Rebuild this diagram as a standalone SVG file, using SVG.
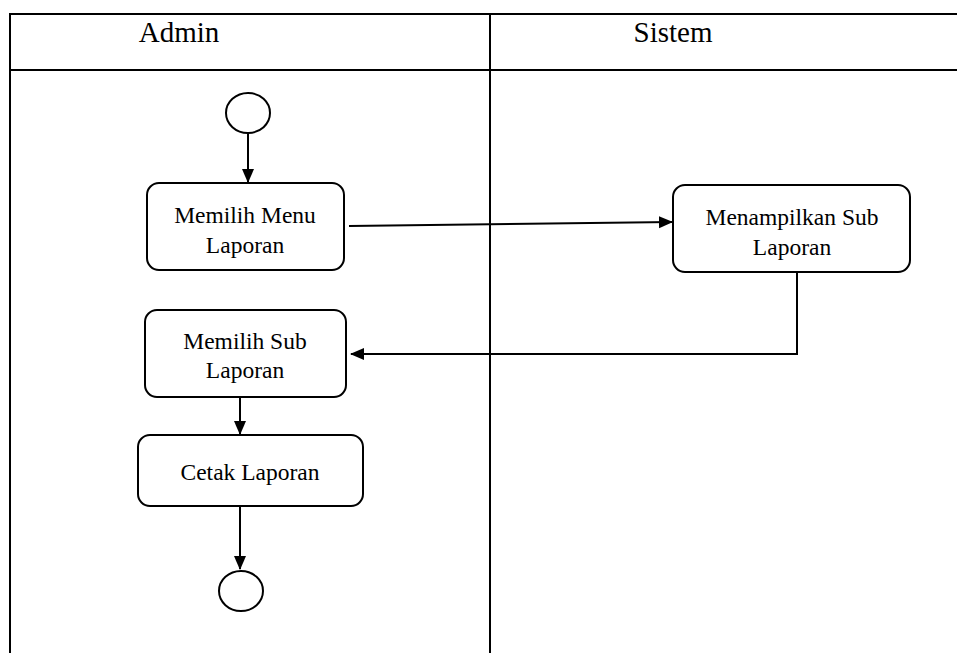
<svg xmlns="http://www.w3.org/2000/svg" width="957" height="653" viewBox="0 0 957 653">
<defs>
<marker id="ah" markerWidth="14" markerHeight="14" refX="13" refY="7" orient="auto" markerUnits="userSpaceOnUse">
<path d="M0,1 L14,7 L0,13 Z" fill="#000"/>
</marker>
<style>
.lane{stroke:#000;stroke-width:2;fill:none}
.node{fill:#fff;stroke:#000;stroke-width:2}
.txt{font-family:"Liberation Serif","Times New Roman",serif;font-size:23.5px;fill:#000;text-anchor:middle}
.hdr{font-family:"Liberation Serif","Times New Roman",serif;font-size:29px;fill:#000;text-anchor:middle}
.conn{stroke:#000;stroke-width:2;fill:none}
</style>
</defs>
<rect width="957" height="653" fill="#fff"/>
<g id="swimlanes">
<line class="lane" x1="10" y1="14" x2="957" y2="14"/>
<line class="lane" x1="10" y1="70" x2="957" y2="70"/>
<line class="lane" x1="10" y1="13" x2="10" y2="653"/>
<line class="lane" x1="490" y1="14" x2="490" y2="653"/>
<text class="hdr" x="179" y="42">Admin</text>
<text class="hdr" x="673" y="42">Sistem</text>
</g>
<g id="start"><ellipse class="node" cx="248" cy="113" rx="22" ry="20"/></g>
<g id="n1">
<rect class="node" x="147" y="183" width="197" height="87" rx="12"/>
<text class="txt" x="245" y="223">Memilih Menu</text>
<text class="txt" x="245" y="253">Laporan</text>
</g>
<g id="n2">
<rect class="node" x="673" y="185" width="237" height="87" rx="12"/>
<text class="txt" x="792" y="225">Menampilkan Sub</text>
<text class="txt" x="792" y="255">Laporan</text>
</g>
<g id="n3">
<rect class="node" x="145" y="310" width="201" height="87" rx="12"/>
<text class="txt" x="245" y="349">Memilih Sub</text>
<text class="txt" x="245" y="378">Laporan</text>
</g>
<g id="n4">
<rect class="node" x="138" y="435" width="225" height="71" rx="12"/>
<text class="txt" x="250" y="480">Cetak Laporan</text>
</g>
<g id="end"><ellipse class="node" cx="241" cy="591" rx="22" ry="20"/></g>
<g id="connectors">
<line class="conn" x1="248" y1="133" x2="248" y2="182" marker-end="url(#ah)"/>
<line class="conn" x1="349" y1="226" x2="672" y2="222" marker-end="url(#ah)"/>
<polyline class="conn" points="797,272 797,354 351,354" marker-end="url(#ah)"/>
<line class="conn" x1="240" y1="397" x2="240" y2="434" marker-end="url(#ah)"/>
<line class="conn" x1="240" y1="506" x2="240" y2="569" marker-end="url(#ah)"/>
</g>
</svg>
